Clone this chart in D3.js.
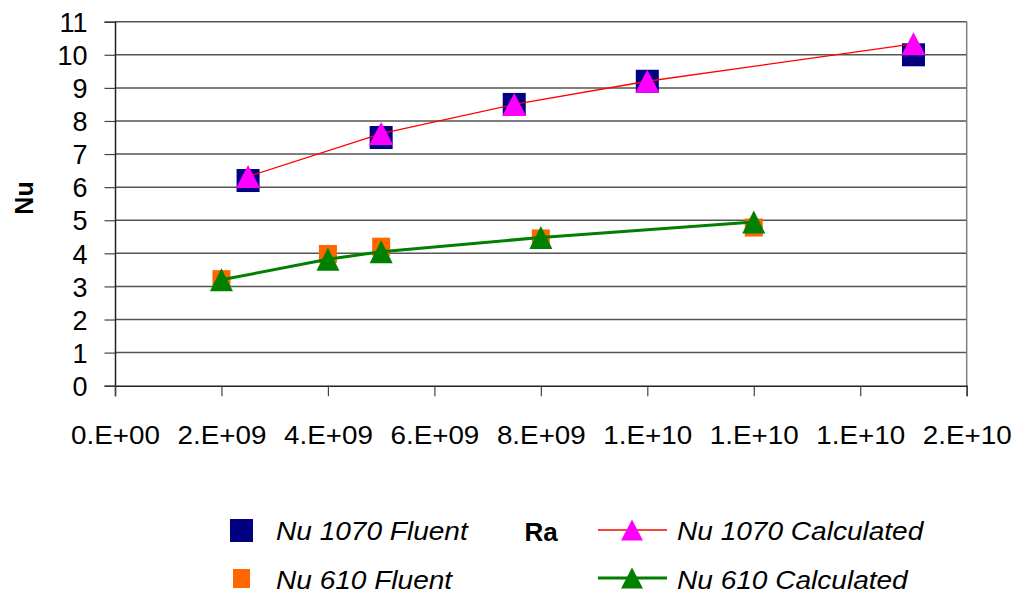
<!DOCTYPE html>
<html><head><meta charset="utf-8">
<script src="https://cdn.jsdelivr.net/npm/d3@7"></script>
<style>body{margin:0;background:#fff}svg{display:block}text{font-family:"Liberation Sans",Arial,sans-serif}</style>
</head><body>
<svg id="c" width="1019" height="594"></svg>
<script>
const xTicks = [0, 2e9, 4e9, 6e9, 8e9, 1e10, 1.2e10, 1.4e10, 1.6e10];
const xTickLabels = ["0.E+00","2.E+09","4.E+09","6.E+09","8.E+09","1.E+10","1.E+10","1.E+10","2.E+10"];
const yTicks = [0,1,2,3,4,5,6,7,8,9,10,11];

const ra1070 = [2.5e9, 5e9, 7.5e9, 1e10, 1.5e10];
const nu1070Fluent = [6.2, 7.5, 8.5, 9.2, 10.0];
const nu1070Calc = [6.32, 7.62, 8.5, 9.2, 10.33];

const ra610 = [2e9, 4e9, 5e9, 8e9, 1.2e10];
const nu610Fluent = [3.22, 3.98, 4.2, 4.45, 4.78];
const nu610Calc = [3.2, 3.82, 4.05, 4.48, 4.95];

const svg = d3.select("#c");
const x = d3.scaleLinear().domain([0, 1.6e10]).range([115, 966.7]);
const y = d3.scaleLinear().domain([0, 11]).range([385.7, 21.7]);
const FF = "Liberation Sans, Arial, sans-serif";

// gridlines
svg.append("g").selectAll("line").data(yTicks.filter(d=>d>0)).join("line")
  .attr("x1", x(0)).attr("x2", x(1.6e10)).attr("y1", d=>y(d)).attr("y2", d=>y(d))
  .attr("stroke", "#555").attr("stroke-width", 1.5);
// right border
svg.append("line").attr("x1", x(1.6e10)).attr("x2", x(1.6e10)).attr("y1", y(11)).attr("y2", y(0))
  .attr("stroke", "#808080").attr("stroke-width", 1.5);

// y axis
const yAxis = d3.axisLeft(y).tickValues(yTicks).tickSize(10.5).tickPadding(17).tickFormat(d3.format("d"));
const gy = svg.append("g").attr("transform", `translate(${x(0)},0)`).call(yAxis);
gy.select(".domain").attr("stroke", "#222").attr("stroke-width", 1.5);
gy.selectAll(".tick line").attr("stroke", "#444").attr("stroke-width", 1.2);
gy.selectAll(".tick text").attr("font-size", 27).attr("fill", "#000").attr("font-family", FF).attr("dy", "0.36em");

// x axis
const xAxis = d3.axisBottom(x).tickValues(xTicks).tickSize(10.5).tickPadding(29)
  .tickFormat((d,i)=>xTickLabels[i]);
const gx = svg.append("g").attr("transform", `translate(0,${y(0)})`).call(xAxis);
gx.select(".domain").attr("stroke", "#222").attr("stroke-width", 1.5);
gx.selectAll(".tick line").attr("stroke", "#444").attr("stroke-width", 1.2);
gx.selectAll(".tick text").attr("font-size", 26).attr("fill", "#000").attr("font-family", FF)
  .attr("transform", "scale(1.07,1)");

// y title
svg.append("text").attr("transform", "translate(33,198) rotate(-90)").attr("text-anchor", "middle")
  .attr("font-size", 25).attr("font-weight", "bold").text("Nu");

const line = d3.line().x(d=>x(d[0])).y(d=>y(d[1]));
function triPath(w, h){ return `M0,${-h/2}L${w/2},${h/2}L${-w/2},${h/2}Z`; }

// Fluent squares
const sq1070 = d3.zip(ra1070, nu1070Fluent);
svg.append("g").selectAll("rect").data(sq1070).join("rect")
  .attr("x", d=>x(d[0])-11.5).attr("y", d=>y(d[1])-11.5).attr("width", 23).attr("height", 23).attr("fill", "#000080");
const sq610 = d3.zip(ra610, nu610Fluent);
svg.append("g").selectAll("rect").data(sq610).join("rect")
  .attr("x", d=>x(d[0])-9).attr("y", d=>y(d[1])-9).attr("width", 18).attr("height", 18).attr("fill", "#ff6600");

// calculated lines + markers
const c1070 = d3.zip(ra1070, nu1070Calc);
svg.append("path").attr("d", line(c1070)).attr("fill", "none").attr("stroke", "#ff0000").attr("stroke-width", 1.3);
svg.append("g").selectAll("path").data(c1070).join("path")
  .attr("d", triPath(24, 23)).attr("transform", d=>`translate(${x(d[0])},${y(d[1])})`).attr("fill", "#ff00ff");
const c610 = d3.zip(ra610, nu610Calc);
svg.append("path").attr("d", line(c610)).attr("fill", "none").attr("stroke", "#008000").attr("stroke-width", 3);
svg.append("g").selectAll("path").data(c610).join("path")
  .attr("d", triPath(23, 23)).attr("transform", d=>`translate(${x(d[0])},${y(d[1])})`).attr("fill", "#008000");

// legend
const lg = svg.append("g");
lg.append("rect").attr("x", 230).attr("y", 519).attr("width", 23).attr("height", 23).attr("fill", "#000080");
lg.append("rect").attr("x", 233).attr("y", 569).attr("width", 17).attr("height", 19).attr("fill", "#ff6600");
const ltext = (tx, ty, s) => lg.append("text").attr("x", 0).attr("y", 0)
  .attr("transform", `translate(${tx},${ty}) scale(1.1,1)`).attr("font-size", 25.5).attr("font-style", "italic").text(s);
ltext(276, 540, "Nu 1070 Fluent");
ltext(276, 589, "Nu 610 Fluent");
ltext(677, 540, "Nu 1070 Calculated");
ltext(677, 589, "Nu 610 Calculated");
lg.append("line").attr("x1", 598).attr("x2", 667).attr("y1", 530).attr("y2", 530).attr("stroke", "#ff0000").attr("stroke-width", 1.3);
lg.append("path").attr("d", triPath(22, 21)).attr("transform", "translate(632,530)").attr("fill", "#ff00ff");
lg.append("line").attr("x1", 598).attr("x2", 667).attr("y1", 578).attr("y2", 578).attr("stroke", "#008000").attr("stroke-width", 3);
lg.append("path").attr("d", triPath(22, 21)).attr("transform", "translate(632,578)").attr("fill", "#008000");

// x title
svg.append("text").attr("x", 541).attr("y", 541).attr("text-anchor", "middle")
  .attr("font-size", 26).attr("font-weight", "bold").text("Ra");
</script>
</body></html>
